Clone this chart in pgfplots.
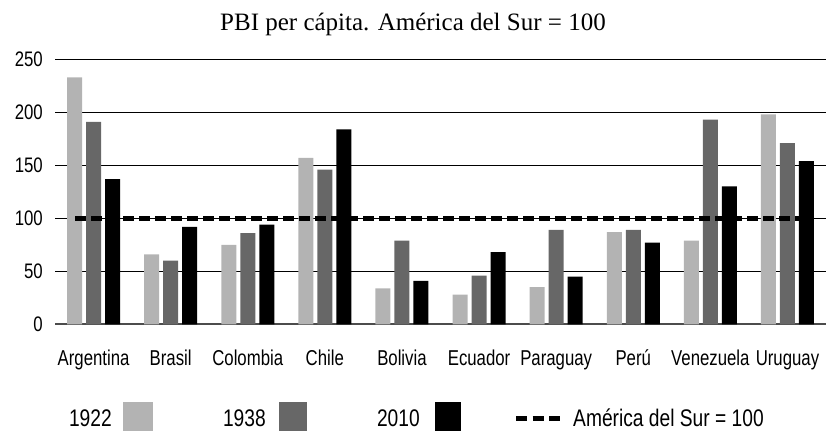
\documentclass[border=0pt]{standalone}
\usepackage{fontspec}
\setmainfont{Liberation Serif}
\newfontfamily\narrowsans{Liberation Sans}[FakeStretch=0.8]
\newfontfamily\narrowsansx{Liberation Sans}[FakeStretch=0.78]
\usepackage{pgfplots}
\usepackage{pgfplotstable}
\pgfplotsset{compat=1.18}
\definecolor{gA}{HTML}{B3B3B3}
\definecolor{gB}{HTML}{676767}
\pgfplotstableread{
x a b c
0 233 191 137
1 66 60 92
2 75 86 94
3 157 146 184
4 34 79 41
5 28 46 68
6 35 89 45
7 87 89 77
8 79 193 130
9 198 171 154
}\data
\begin{document}
\begin{tikzpicture}
\useasboundingbox (0,0) rectangle (826bp,431bp);
\begin{axis}[
  at={(55bp,106.7bp)}, anchor=south west,
  scale only axis, width=771bp, height=265bp,
  xmin=-0.5, xmax=9.5, ymin=0, ymax=250,
  ybar, bar width=15bp,
  xtick={0,...,9},
  xticklabels={Argentina,Brasil,Colombia,Chile,Bolivia,Ecuador,Paraguay,Perú,Venezuela,Uruguay},
  ytick={0,50,...,250},
  ymajorgrids, grid style={black, line width=0.9bp},
  axis x line*=bottom, axis y line*=left,
  x axis line style={draw=black!70, line width=1.8bp, -},
  y axis line style={draw=none},
  tick style={draw=none},
  /pgf/number format/assume math mode=true,
  xticklabel style={font=\narrowsansx\fontsize{21.5bp}{26bp}\selectfont, inner sep=0pt, anchor=base, yshift=-36.7bp},
  yticklabel style={font=\narrowsans\fontsize{21bp}{25bp}\selectfont, inner sep=0pt, anchor=east, xshift=-12bp},
  title={PBI per cápita. América del Sur = 100},
  title style={at={(axis description cs:0.4643,1)}, anchor=base, yshift=23bp, inner sep=0pt, font=\fontsize{25bp}{30bp}\selectfont},
  legend columns=-1,
  legend plot pos=right,
  legend style={at={(axis description cs:0.01816,-0.2932)}, anchor=north west,
    draw=none, fill=none, inner sep=0pt, outer sep=0pt, column sep=0pt,
    font=\narrowsans\fontsize{24bp}{28bp}\selectfont,
    nodes={inner sep=0pt, text height=17bp, text depth=0pt}},
]
\addplot[fill=gA, draw=none, bar shift=-19bp,
  legend image code/.code={\path[draw=none,fill=none] (0,0) -- (100bp,0); \fill[gA] (0,-13bp) rectangle (30bp,16.5bp);}]
  table[x=x,y=a]{\data};
\addlegendentry{\makebox[54bp][l]{1922}}
\addplot[fill=gB, draw=none, bar shift=0bp,
  legend image code/.code={\path[draw=none,fill=none] (0,0) -- (98bp,0); \fill[gB] (0,-13bp) rectangle (28bp,16.5bp);}]
  table[x=x,y=b]{\data};
\addlegendentry{\makebox[56bp][l]{1938}}
\addplot[fill=black, draw=none, bar shift=19bp,
  legend image code/.code={\path[draw=none,fill=none] (0,0) -- (78bp,0); \fill[black] (0,-13bp) rectangle (26bp,16.5bp);}]
  table[x=x,y=c]{\data};
\addlegendentry{\makebox[58bp][l]{2010}}
\addplot[sharp plot, black, line width=4.5bp, dash pattern=on 10.5bp off 5.5bp,
  legend image code/.code={\draw[black, line width=4.5bp, dash pattern=on 11bp off 5.5bp] (0,0) -- (44bp,0);
     \node[anchor=west, inner sep=0pt, text height=17bp, text depth=0pt] at (57bp,0) {América del Sur = 100};}]
  coordinates {(-0.24,100) (9.17,100)};
\addlegendentry{}
\end{axis}
\end{tikzpicture}
\end{document}
